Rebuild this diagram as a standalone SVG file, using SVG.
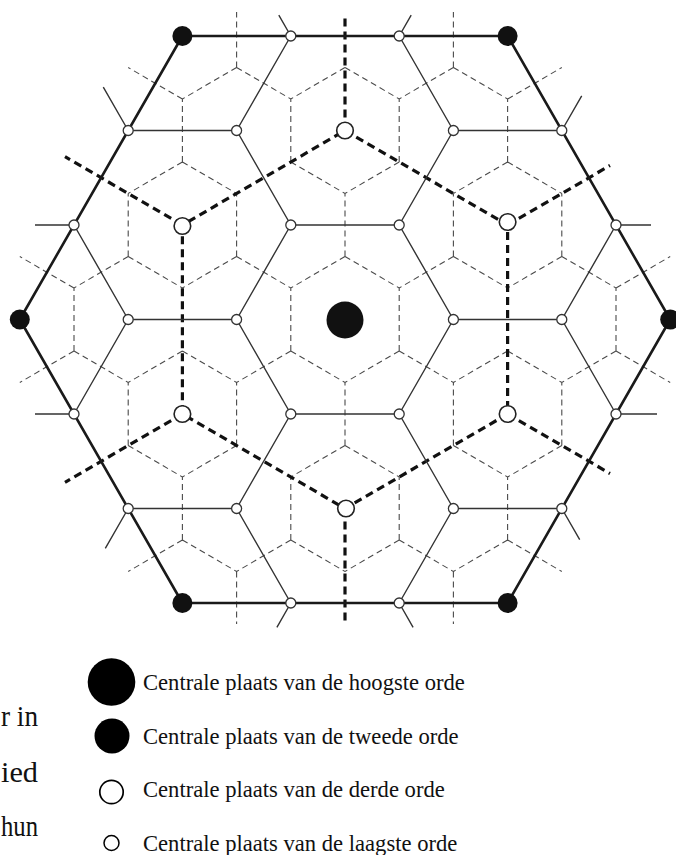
<svg xmlns="http://www.w3.org/2000/svg" width="676" height="855" viewBox="0 0 676 855">
<style>
.ma{fill:none;stroke:#4a4a4a;stroke-width:1.1;stroke-dasharray:6 4}
.ma2{fill:none;stroke:#111;stroke-width:3.2;stroke-dasharray:8 5}
.road{fill:none;stroke:#333;stroke-width:1.4}
.hex{fill:none;stroke:#1a1a1a;stroke-width:2.6;stroke-linejoin:round}
.p4{fill:#fff;stroke:#333;stroke-width:1.3}
.p3{fill:#fff;stroke:#222;stroke-width:1.6}
.p2{fill:#111}
.p1{fill:#111}
.txt{font-family:"Liberation Serif","Times New Roman",serif;fill:#111}
.lg{font-size:22.6px}
.cut{font-size:30px}
</style>
<rect width="676" height="855" fill="#fff"/>
<g id="connectors">
<g id="market-areas-lowest" class="ma">
<path d="M236.6 67.5V12M236.6 67.5L182.4 99M236.6 67.5L290.8 99M345 67.5L290.8 99M345 67.5L399.2 99M453.4 67.5V12M453.4 67.5L399.2 99M453.4 67.5L507.6 99
M182.4 162V99M182.4 162L128.2 193.5M182.4 162L236.6 193.5M290.8 162V99M290.8 162L345 193.5M399.2 162V99M399.2 162L345 193.5M507.6 162V99M507.6 162L453.4 193.5M507.6 162L561.8 193.5
M128.2 256.5V193.5M128.2 256.5L74 288M128.2 256.5L182.4 288M236.6 256.5V193.5M236.6 256.5L182.4 288M236.6 256.5L290.8 288M345 256.5V193.5M345 256.5L290.8 288M345 256.5L399.2 288M453.4 256.5V193.5M453.4 256.5L399.2 288M453.4 256.5L507.6 288M561.8 256.5V193.5M561.8 256.5L507.6 288M561.8 256.5L616 288
M74 351V288M74 351L19.8 382.5M74 351L128.2 382.5M182.4 351L128.2 382.5M182.4 351L236.6 382.5M290.8 351V288M290.8 351L236.6 382.5M290.8 351L345 382.5M399.2 351V288M399.2 351L345 382.5M399.2 351L453.4 382.5M507.6 351L453.4 382.5M507.6 351L561.8 382.5M616 351V288M616 351L561.8 382.5M616 351L670.2 382.5
M128.2 445.5V382.5M128.2 445.5L182.4 477M236.6 445.5V382.5M236.6 445.5L182.4 477M345 445.5V382.5M345 445.5L290.8 477M345 445.5L399.2 477M453.4 445.5V382.5M453.4 445.5L507.6 477M561.8 445.5V382.5M561.8 445.5L507.6 477
M182.4 540V477M182.4 540L128.2 571.5M182.4 540L236.6 571.5M290.8 540V477M290.8 540L236.6 571.5M290.8 540L345 571.5M399.2 540V477M399.2 540L345 571.5M399.2 540L453.4 571.5M507.6 540V477M507.6 540L453.4 571.5M507.6 540L561.8 571.5
M182.4 99L128.2 67.5M507.6 99L561.8 67.5M74 288L19.8 256.5M616 288L670.2 256.5M236.6 571.5V624M453.4 571.5V624"/>
</g>
<g id="market-areas-second" class="ma2">
<path d="M345 130.5L507.6 225L507.6 414L345 508.5L182.4 414L182.4 225Z"/>
<path d="M345 130.5V14M507.6 225L610 165.5M507.6 414L610 473.5M345 508.5V624M182.4 414L65 482.3M182.4 225L65 156.7"/>
</g>
<g id="roads" class="road">
<path d="M128.2 130.5H236.6M453.4 130.5H561.8M290.8 225H399.2M128.2 319.5H236.6M453.4 319.5H561.8M290.8 414H399.2M128.2 508.5H236.6M453.4 508.5H561.8
M399.2 36L453.4 130.5M236.6 130.5L290.8 36M236.6 130.5L290.8 225M74 225L128.2 319.5M399.2 225L453.4 130.5M399.2 225L453.4 319.5M236.6 319.5L290.8 225M236.6 319.5L290.8 414M561.8 319.5L616 225M561.8 319.5L616 414M74 414L128.2 319.5M399.2 414L453.4 319.5M399.2 414L453.4 508.5M236.6 508.5L290.8 414M236.6 508.5L290.8 603M399.2 603L453.4 508.5
M290.8 36L278.8 15.2M399.2 36L411.2 15.2M128.2 130.5L103.3 87.1M561.8 130.5L581.7 95.8M74 225H35M616 225H651M74 414H35M616 414H657M128.2 508.5L105.3 548.4M561.8 508.5L579.7 539.7M290.8 603L276.9 627.3M399.2 603L413.1 627.3"/>
</g>
<path id="outer-hexagon" class="hex" d="M182.4 36H507.6L670.2 319.5L507.6 603H182.4L19.8 319.5Z"/>
</g>
<g id="places">
<g id="highest"><circle class="p1" cx="345" cy="320" r="18.5"/></g>
<g id="second-1"><circle class="p2" cx="182.4" cy="36" r="10"/></g>
<g id="second-2"><circle class="p2" cx="507.6" cy="36" r="10"/></g>
<g id="second-3"><circle class="p2" cx="670.2" cy="319.5" r="10"/></g>
<g id="second-4"><circle class="p2" cx="507.6" cy="603" r="10"/></g>
<g id="second-5"><circle class="p2" cx="182.4" cy="603" r="10"/></g>
<g id="second-6"><circle class="p2" cx="19.8" cy="319.5" r="10"/></g>
<g id="third-1"><circle class="p3" cx="345" cy="130.5" r="8.3"/></g>
<g id="third-2"><circle class="p3" cx="507.6" cy="222" r="8.3"/></g>
<g id="third-3"><circle class="p3" cx="507.6" cy="414" r="8.3"/></g>
<g id="third-4"><circle class="p3" cx="346" cy="508.5" r="8.3"/></g>
<g id="third-5"><circle class="p3" cx="182.4" cy="414" r="8.3"/></g>
<g id="third-6"><circle class="p3" cx="182.4" cy="226" r="8.3"/></g>
<g id="low-1"><circle class="p4" cx="290.8" cy="36" r="5"/></g>
<g id="low-2"><circle class="p4" cx="399.2" cy="36" r="5"/></g>
<g id="low-3"><circle class="p4" cx="128.2" cy="130.5" r="5"/></g>
<g id="low-4"><circle class="p4" cx="236.6" cy="130.5" r="5"/></g>
<g id="low-5"><circle class="p4" cx="453.4" cy="130.5" r="5"/></g>
<g id="low-6"><circle class="p4" cx="561.8" cy="130.5" r="5"/></g>
<g id="low-7"><circle class="p4" cx="74" cy="225" r="5"/></g>
<g id="low-8"><circle class="p4" cx="290.8" cy="225" r="5"/></g>
<g id="low-9"><circle class="p4" cx="399.2" cy="225" r="5"/></g>
<g id="low-10"><circle class="p4" cx="616" cy="225" r="5"/></g>
<g id="low-11"><circle class="p4" cx="128.2" cy="319.5" r="5"/></g>
<g id="low-12"><circle class="p4" cx="236.6" cy="319.5" r="5"/></g>
<g id="low-13"><circle class="p4" cx="453.4" cy="319.5" r="5"/></g>
<g id="low-14"><circle class="p4" cx="561.8" cy="319.5" r="5"/></g>
<g id="low-15"><circle class="p4" cx="74" cy="414" r="5"/></g>
<g id="low-16"><circle class="p4" cx="290.8" cy="414" r="5"/></g>
<g id="low-17"><circle class="p4" cx="399.2" cy="414" r="5"/></g>
<g id="low-18"><circle class="p4" cx="616" cy="414" r="5"/></g>
<g id="low-19"><circle class="p4" cx="128.2" cy="508.5" r="5"/></g>
<g id="low-20"><circle class="p4" cx="236.6" cy="508.5" r="5"/></g>
<g id="low-21"><circle class="p4" cx="453.4" cy="508.5" r="5"/></g>
<g id="low-22"><circle class="p4" cx="561.8" cy="508.5" r="5"/></g>
<g id="low-23"><circle class="p4" cx="290.8" cy="603" r="5"/></g>
<g id="low-24"><circle class="p4" cx="399.2" cy="603" r="5"/></g>
</g>
<g id="legend">
<circle cx="111.5" cy="682" r="23.8" fill="#000"/>
<circle cx="112" cy="736" r="17.5" fill="#000"/>
<circle cx="111.5" cy="792" r="11.7" fill="#fff" stroke="#000" stroke-width="1.7"/>
<circle cx="111.5" cy="843" r="7.5" fill="#fff" stroke="#000" stroke-width="1.5"/>
<text class="txt lg" x="143" y="690">Centrale plaats van de hoogste orde</text>
<text class="txt lg" x="143" y="743.5">Centrale plaats van de tweede orde</text>
<text class="txt lg" x="143" y="797">Centrale plaats van de derde orde</text>
<text class="txt lg" x="143" y="851">Centrale plaats van de laagste orde</text>
</g>
<g id="cut-text" class="txt cut">
<text x="1" y="726" textLength="37" lengthAdjust="spacingAndGlyphs">r in</text>
<text x="1" y="782" textLength="37" lengthAdjust="spacingAndGlyphs">ied</text>
<text x="1" y="836" textLength="37" lengthAdjust="spacingAndGlyphs">hun</text>
</g>
</svg>
